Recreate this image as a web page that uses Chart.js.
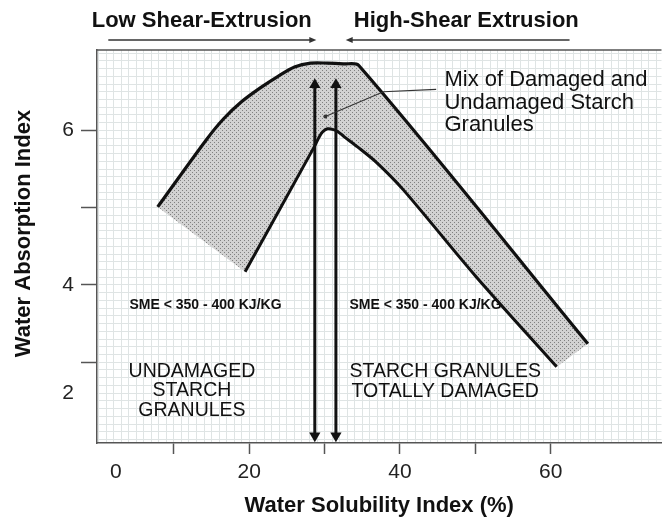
<!DOCTYPE html>
<html>
<head>
<meta charset="utf-8">
<script src="https://cdn.jsdelivr.net/npm/chart.js@4.4.1/dist/chart.umd.min.js"></script>
<style>
  html, body { margin: 0; padding: 0; background: #fff; }
  #wrap { width: 668px; height: 523px; }
</style>
</head>
<body>
<div id="wrap"><canvas id="chart" width="668" height="523"></canvas></div>
<script>
// upper (outer) edge of the band
const upperX = [7.85, 14.24, 16.6, 18.97, 21.46, 23.82, 26.01, 28.15, 30.38, 32.48, 34.54, 64.93];
const upperY = [5.01, 5.87, 6.15, 6.37, 6.55, 6.70, 6.82, 6.87, 6.87, 6.86, 6.84, 3.24];

// lower (inner) edge of the band
const lowerX = [19.45, 28.64, 29.2, 29.72, 30.38, 31.17, 31.82, 32.57, 34.32, 36.94, 40.45, 50.07, 60.79];
const lowerY = [4.17, 5.79, 5.9, 5.98, 6.02, 6.01, 5.98, 5.92, 5.79, 5.58, 5.23, 4.11, 2.94];

// the two double headed arrows
const arrowX = [28.7, 31.5];
const arrowY = [2.05, 6.59];

// leader line to the "Mix of ..." note
const leaderX = [30.1, 37.8, 44.8];
const leaderY = [6.18, 6.50, 6.53];

// axis ticks
const xTickMarks = [10, 20, 30, 40, 50, 60];
const xTickLabelPos = [2.3, 20, 40, 60];
const xTickLabels = ['0', '20', '40', '60'];
const yTickMarks = [3, 4, 5, 6];
const yTickLabelPos = [2.6, 4, 6];
const yTickLabels = ['2', '4', '6'];

const FONT = '"Liberation Sans", Arial, sans-serif';
const gridColor = '#dfe4e4';
const frameColor = '#555';
const TENSION = 0.3;

const near = (a, b) => Math.abs(a - b) < 1e-6;
function labelFor(pos, labels, v) {
  const i = pos.findIndex(p => near(p, v));
  return i >= 0 ? labels[i] : '';
}

// fine graph-paper grid
const xGrid = [];
for (let k = 0; k <= 74; k++) xGrid.push(k);
const yGrid = [];
for (let k = 20; k <= 70; k++) yGrid.push(k / 10);

const toPts = (xs, ys) => xs.map((x, i) => ({ x: x, y: ys[i] }));
const upperPts = toPts(upperX, upperY);
const lowerPts = toPts(lowerX, lowerY);
// closed outline: end points doubled so the spline matches the edge lines
const uEnd = upperPts[upperPts.length - 1];
const lEnd = lowerPts[lowerPts.length - 1];
const bandPts = upperPts.concat([{ ...uEnd }, { ...lEnd }], lowerPts.slice().reverse());

// dotted grey fill for the band
function makePattern() {
  const c = document.createElement('canvas');
  c.width = 4; c.height = 4;
  const g = c.getContext('2d');
  g.fillStyle = '#d2d2d2';
  g.fillRect(0, 0, 4, 4);
  g.fillStyle = '#808080';
  g.fillRect(0, 0, 1, 1);
  g.fillRect(2, 2, 1, 1);
  return g.createPattern(c, 'repeat');
}

// free text on the plot, placed in data units
const notes = [
  { lines: ['SME < 350 - 400 KJ/KG'], x: 4.1, y: 3.74, align: 'left', font: 'bold 14px ' + FONT, lh: 16 },
  { lines: ['SME < 350 - 400 KJ/KG'], x: 33.3, y: 3.74, align: 'left', font: 'bold 14px ' + FONT, lh: 16 },
  { lines: ['UNDAMAGED', 'STARCH', 'GRANULES'], x: 12.4, y: 2.877, align: 'center', font: '19.5px ' + FONT, lh: 19.3 },
  { lines: ['STARCH GRANULES', 'TOTALLY DAMAGED'], x: 46.0, y: 2.877, align: 'center', font: '19.5px ' + FONT, lh: 20 },
  { lines: ['Mix of Damaged and', 'Undamaged Starch', 'Granules'], x: 45.9, y: 6.65, align: 'left', font: '22px ' + FONT, lh: 22.5 }
];

const extras = {
  id: 'extras',
  beforeDatasetsDraw(chart) {
    const { ctx, chartArea: a, scales: { x, y } } = chart;
    ctx.save();
    // top frame line
    ctx.strokeStyle = frameColor;
    ctx.lineWidth = 1.5;
    ctx.beginPath();
    ctx.moveTo(a.left, a.top);
    ctx.lineTo(a.right, a.top);
    ctx.stroke();

    ctx.fillStyle = '#111';
    ctx.textBaseline = 'middle';
    notes.forEach(n => {
      ctx.font = n.font;
      ctx.textAlign = n.align;
      const px = x.getPixelForValue(n.x);
      const py = y.getPixelForValue(n.y);
      n.lines.forEach((t, i) => ctx.fillText(t, px, py + i * n.lh));
    });
    ctx.restore();
  },
  afterDraw(chart) {
    const { ctx, chartArea: a, scales: { x } } = chart;
    ctx.save();
    ctx.fillStyle = '#111';
    ctx.textAlign = 'center';
    ctx.textBaseline = 'middle';
    ctx.font = 'bold 22px ' + FONT;
    ctx.fillText('Low Shear-Extrusion', x.getPixelForValue(13.7), a.top - 29);
    ctx.fillText('High-Shear Extrusion', x.getPixelForValue(48.8), a.top - 29);

    // header arrows
    const ay = a.top - 10;
    const arrow = (from, to) => {
      const x0 = x.getPixelForValue(from), x1 = x.getPixelForValue(to);
      const d = Math.sign(x1 - x0);
      ctx.strokeStyle = '#333';
      ctx.fillStyle = '#333';
      ctx.lineWidth = 1.5;
      ctx.beginPath();
      ctx.moveTo(x0, ay);
      ctx.lineTo(x1 - d * 5, ay);
      ctx.stroke();
      ctx.beginPath();
      ctx.moveTo(x1, ay);
      ctx.lineTo(x1 - d * 7, ay - 3);
      ctx.lineTo(x1 - d * 7, ay + 3);
      ctx.closePath();
      ctx.fill();
    };
    arrow(1.3, 28.9);
    arrow(62.5, 32.8);

    // y axis title
    ctx.fillStyle = '#111';
    ctx.translate(24, 233.5);
    ctx.rotate(-Math.PI / 2);
    ctx.fillText('Water Absorption Index', 0, 0);
    ctx.restore();
  }
};

Chart.defaults.font.family = FONT;

new Chart(document.getElementById('chart'), {
  type: 'line',
  data: {
    datasets: [
      {
        label: 'leader',
        data: toPts(leaderX, leaderY),
        borderColor: '#333',
        borderWidth: 1.2,
        tension: 0,
        pointRadius: [2, 0, 0],
        pointBackgroundColor: '#333',
        pointBorderWidth: 0,
        order: 1
      },
      {
        label: 'arrow 1',
        data: toPts([arrowX[0], arrowX[0]], arrowY),
        borderColor: '#111',
        borderWidth: 3,
        tension: 0,
        pointStyle: 'triangle',
        pointRadius: 6.5,
        pointRotation: [180, 0],
        pointBackgroundColor: '#111',
        pointBorderWidth: 0,
        order: 2
      },
      {
        label: 'arrow 2',
        data: toPts([arrowX[1], arrowX[1]], arrowY),
        borderColor: '#111',
        borderWidth: 3,
        tension: 0,
        pointStyle: 'triangle',
        pointRadius: 6.5,
        pointRotation: [180, 0],
        pointBackgroundColor: '#111',
        pointBorderWidth: 0,
        order: 2
      },
      {
        label: 'upper',
        data: upperPts,
        borderColor: '#111',
        borderWidth: 3.2,
        borderJoinStyle: 'round',
        tension: TENSION,
        pointRadius: 0,
        order: 3
      },
      {
        label: 'lower',
        data: lowerPts,
        borderColor: '#111',
        borderWidth: 3,
        borderJoinStyle: 'round',
        tension: TENSION,
        pointRadius: 0,
        order: 3
      },
      {
        label: 'band',
        data: bandPts,
        borderWidth: 0,
        borderColor: 'rgba(0,0,0,0)',
        backgroundColor: makePattern(),
        fill: 'shape',
        tension: TENSION,
        pointRadius: 0,
        order: 4
      }
    ]
  },
  options: {
    responsive: false,
    animation: false,
    layout: { padding: { top: 50, right: 0, left: 0, bottom: 0 } },
    plugins: {
      legend: { display: false },
      tooltip: { enabled: false }
    },
    scales: {
      x: {
        type: 'linear',
        min: -0.2,
        max: 74.7,
        afterBuildTicks: s => {
          s.ticks = [...new Set(xGrid.concat(xTickLabelPos))].sort((a, b) => a - b).map(v => ({ value: v }));
        },
        afterFit: s => { s.height = 80; },
        border: { display: true, color: frameColor, width: 1.5 },
        grid: {
          color: c => (c.tick && Number.isInteger(c.tick.value)) ? gridColor : 'rgba(0,0,0,0)',
          lineWidth: 1,
          tickLength: 11,
          tickWidth: 1.5,
          tickColor: c => (c.tick && xTickMarks.some(v => near(v, c.tick.value))) ? frameColor : 'rgba(0,0,0,0)'
        },
        ticks: {
          autoSkip: false,
          maxRotation: 0,
          padding: 6,
          color: '#222',
          font: { size: 21 },
          callback: v => labelFor(xTickLabelPos, xTickLabels, v)
        },
        title: {
          display: true,
          text: 'Water Solubility Index (%)',
          color: '#111',
          font: { size: 22, weight: 'bold' },
          padding: { top: 0, bottom: 4 }
        }
      },
      y: {
        type: 'linear',
        min: 1.955,
        max: 7.04,
        afterBuildTicks: s => {
          s.ticks = yGrid.map(v => ({ value: v }));
        },
        afterFit: s => { s.width = 97; },
        border: { display: true, color: frameColor, width: 1.5 },
        grid: {
          color: gridColor,
          lineWidth: 1,
          tickLength: 16,
          tickWidth: 1.5,
          tickColor: c => (c.tick && yTickMarks.some(v => near(v, c.tick.value))) ? frameColor : 'rgba(0,0,0,0)'
        },
        ticks: {
          autoSkip: false,
          padding: 7,
          color: '#222',
          font: { size: 21 },
          callback: v => labelFor(yTickLabelPos, yTickLabels, v)
        }
      }
    }
  },
  plugins: [extras]
});
</script>
</body>
</html>
